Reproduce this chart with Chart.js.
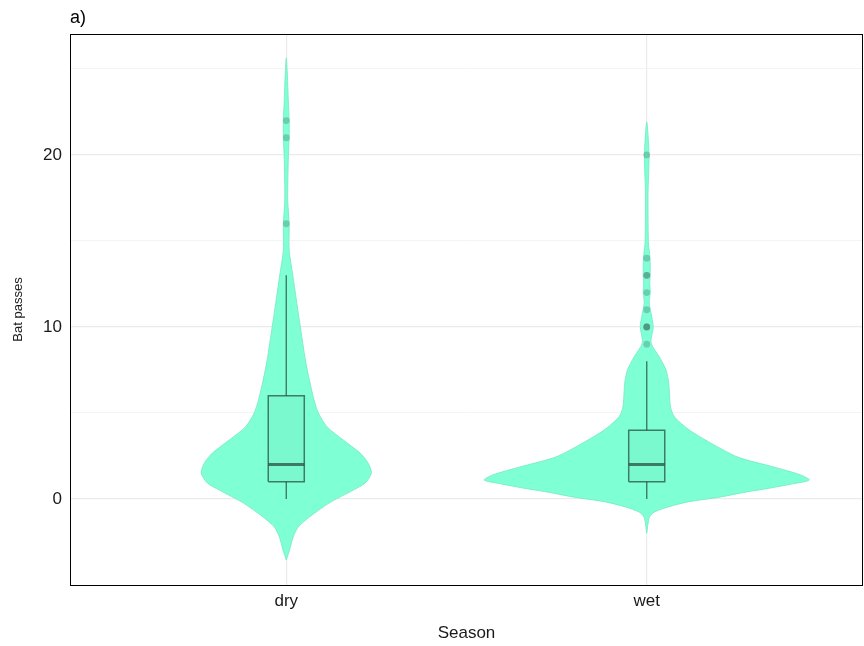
<!DOCTYPE html>
<html>
<head>
<meta charset="utf-8">
<script src="https://cdn.jsdelivr.net/npm/chart.js@4.4.0/dist/chart.umd.min.js"></script>
<style>
  html, body { margin: 0; padding: 0; background: #fff; }
</style>
</head>
<body>
<canvas id="myChart" width="864" height="646"></canvas>
<script>
const seasons = ["dry", "wet"];
const yTicks = [0, 10, 20];
const yMinorTicks = [5, 15, 25];

// violin outlines: level (bat passes) and half width (category units)
const dryLevels = [-3.55, -2.97, -2.21, -1.63, -1.05, -0.23, 0.52, 0.93, 1.51, 2.09, 2.67, 3.43, 4.19, 5.0,
  5.76, 6.92, 8.08, 10.0, 11.57, 13.02, 14.48, 15.99, 17.38, 19.71, 21.05, 22.03, 23.2, 24.65, 25.64];
const dryHalfWidths = [0, 0.009, 0.019, 0.033, 0.064, 0.119, 0.186, 0.219, 0.236, 0.227, 0.205, 0.158, 0.113, 0.089,
  0.077, 0.064, 0.053, 0.039, 0.028, 0.018, 0.008, 0.008, 0.004, 0.0055, 0.008, 0.008, 0.0055, 0.003, 0];

const wetLevels = [-1.98, -1.51, -1.05, -0.76, -0.47, -0.17, 0.12, 0.41, 0.64, 0.87, 1.1, 1.4, 1.86, 2.44, 3.26,
  4.01, 4.77, 5.35, 6.74, 7.5, 8.26, 9.07, 10.0, 10.58, 11.4, 12.03, 12.56, 13.02, 14.01, 14.88, 17.79, 20.0, 21.92];
const wetHalfWidths = [0, 0.003, 0.0075, 0.021, 0.058, 0.114, 0.205, 0.277, 0.344, 0.402, 0.451, 0.427, 0.352, 0.252, 0.177,
  0.118, 0.077, 0.066, 0.061, 0.0535, 0.035, 0.012, 0.018, 0.014, 0.007, 0.0097, 0.0083, 0.0097, 0.0091, 0.0047, 0.0036, 0.0064, 0];

// boxplots
const boxLow = [0, 0];
const boxQ1 = [1, 1];
const boxMedian = [2, 2];
const boxQ3 = [6, 4];
const boxHigh = [13, 8];

const dryOutliers = [16, 21, 22];
const wetOutliers = [9, 10, 10, 10, 11, 12, 13, 13, 14, 20];

const violinFill = "rgb(127, 255, 212)";
const boxLine = "rgba(40, 80, 65, 0.75)";
const boxHalf = 0.05;
const fontFamily = "'Liberation Sans', Arial, sans-serif";

function violinOutline(center, levels, widths) {
  const pts = [];
  for (let i = 0; i < levels.length; i++) {
    pts.push({ x: center - widths[i], y: levels[i] });
  }
  for (let i = levels.length - 2; i >= 0; i--) {
    pts.push({ x: center + widths[i], y: levels[i] });
  }
  return pts;
}

const datasets = [];

[[dryLevels, dryHalfWidths], [wetLevels, wetHalfWidths]].forEach(([lv, hw], i) => {
  datasets.push({
    data: violinOutline(i + 1, lv, hw),
    borderColor: "rgba(120, 235, 200, 0.9)",
    borderWidth: 1,
    backgroundColor: violinFill,
    fill: "shape",
    tension: 0.25,
    pointRadius: 0,
    order: 6,
  });
});

seasons.forEach((s, i) => {
  const c = i + 1;
  datasets.push({
    data: [
      { x: c - boxHalf, y: boxQ1[i] },
      { x: c + boxHalf, y: boxQ1[i] },
      { x: c + boxHalf, y: boxQ3[i] },
      { x: c - boxHalf, y: boxQ3[i] },
      { x: c - boxHalf, y: boxQ1[i] },
    ],
    borderColor: boxLine,
    borderWidth: 1.5,
    backgroundColor: "rgba(90, 200, 165, 0.12)",
    fill: "shape",
    tension: 0,
    pointRadius: 0,
    order: 5,
  });
  datasets.push({
    data: [{ x: c, y: boxQ3[i] }, { x: c, y: boxHigh[i] }],
    borderColor: boxLine,
    borderWidth: 1.4,
    pointRadius: 0,
    fill: false,
    order: 4,
  });
  datasets.push({
    data: [{ x: c, y: boxLow[i] }, { x: c, y: boxQ1[i] }],
    borderColor: boxLine,
    borderWidth: 1.4,
    pointRadius: 0,
    fill: false,
    order: 4,
  });
  datasets.push({
    data: [{ x: c - boxHalf, y: boxMedian[i] }, { x: c + boxHalf, y: boxMedian[i] }],
    borderColor: boxLine,
    borderWidth: 3,
    pointRadius: 0,
    fill: false,
    order: 3,
  });
});

datasets.push({
  type: "scatter",
  data: dryOutliers.map((v) => ({ x: 1, y: v }))
    .concat(wetOutliers.map((v) => ({ x: 2, y: v }))),
  pointRadius: 3.4,
  pointBackgroundColor: "rgba(60, 110, 95, 0.32)",
  pointBorderWidth: 0,
  order: 1,
});

const panelBorder = {
  id: "panelBorder",
  afterDatasetsDraw(chart) {
    const { ctx, chartArea: a } = chart;
    ctx.save();
    ctx.strokeStyle = "#000";
    ctx.lineWidth = 1;
    ctx.strokeRect(a.left + 0.5, a.top + 0.5, a.right - a.left - 1, a.bottom - a.top);
    ctx.fillStyle = "#000";
    ctx.font = "18px " + fontFamily;
    ctx.textBaseline = "alphabetic";
    ctx.fillText("a)", a.left, 23);
    ctx.restore();
  },
};

new Chart(document.getElementById("myChart"), {
  type: "line",
  data: { datasets },
  options: {
    responsive: false,
    animation: false,
    devicePixelRatio: 1,
    layout: { autoPadding: false, padding: { top: 34, right: 1, left: 0, bottom: 0 } },
    plugins: { legend: { display: false }, tooltip: { enabled: false } },
    scales: {
      x: {
        type: "linear",
        min: 0.4,
        max: 2.6,
        afterBuildTicks: (scale) => {
          scale.ticks = seasons.map((s, i) => ({ value: i + 1 }));
        },
        afterFit: (scale) => {
          scale.height = 61;
        },
        ticks: {
          callback: (v) => seasons[v - 1],
          color: "#1a1a1a",
          font: { family: fontFamily, size: 17 },
          padding: 6,
          maxRotation: 0,
        },
        grid: { color: "#ebebeb", lineWidth: 1.2, drawTicks: false },
        border: { display: false },
        title: {
          display: true,
          text: "Season",
          color: "#1a1a1a",
          font: { family: fontFamily, size: 17 },
          padding: { top: 0, bottom: 2 },
        },
      },
      y: {
        type: "linear",
        min: -5.0,
        max: 27.03,
        afterBuildTicks: (scale) => {
          scale.ticks = yTicks.concat(yMinorTicks).sort((a, b) => a - b).map((v) => ({ value: v }));
        },
        afterFit: (scale) => {
          scale.width = 70;
        },
        ticks: {
          callback: (v) => (yTicks.includes(v) ? String(v) : ""),
          color: "#1a1a1a",
          font: { family: fontFamily, size: 17 },
          padding: 8,
        },
        grid: {
          color: (ctx) => (ctx.tick && yTicks.includes(ctx.tick.value) ? "#ebebeb" : "#f3f3f3"),
          lineWidth: (ctx) => (ctx.tick && yTicks.includes(ctx.tick.value) ? 1.2 : 0.9),
          drawTicks: false,
        },
        border: { display: false },
        title: {
          display: true,
          text: "Bat passes",
          color: "#1a1a1a",
          font: { family: fontFamily, size: 13 },
          padding: { top: 11, bottom: 0 },
        },
      },
    },
  },
  plugins: [panelBorder],
});
</script>
</body>
</html>
